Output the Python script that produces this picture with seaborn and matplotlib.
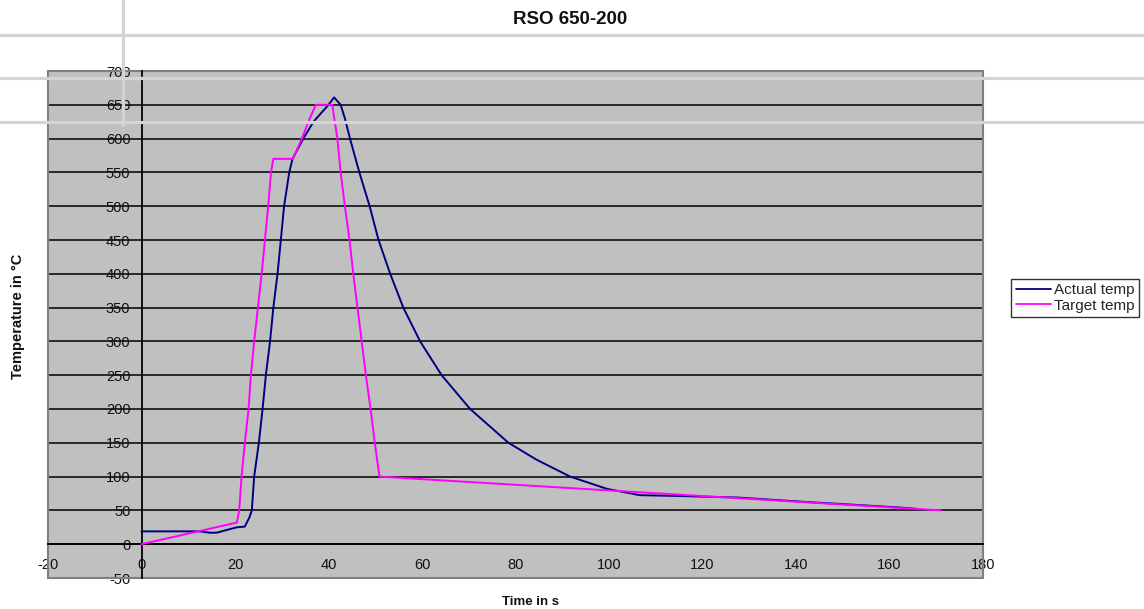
import matplotlib
matplotlib.use("Agg")
import matplotlib.pyplot as plt
import numpy as np
import pandas as pd
import seaborn as sns
from matplotlib.lines import Line2D
from matplotlib.patches import Rectangle

# ---------------- data ----------------
actual_time = [0, 12.5, 14.6, 16.1, 18.2, 20.4, 22.1, 23.1, 23.6, 24.1, 25.1, 25.9,
               26.6, 27.5, 28.2, 29.1, 29.8, 30.5, 31.6, 32.3, 34.6, 36.8, 40.0,
               41.2, 42.6, 43.5, 44.6, 46.6, 48.8, 50.7, 53.2, 56.0, 59.6, 64.2,
               70.3, 78.5, 84.5, 91.7, 99.5, 106.6, 113.7, 127.6, 141.9, 151.5,
               162.2, 166.0]
actual_temp = [19, 19, 17, 17, 21, 25, 26, 40, 50, 100, 150, 200,
               250, 300, 350, 400, 450, 500, 550, 570, 600, 625, 650,
               661, 650, 630, 600, 550, 500, 450, 400, 350, 300, 250,
               200, 150, 125, 100, 82, 72.5, 71.5, 69, 62.6, 58.7,
               54.3, 52.2]

target_time = [0, 20.4, 20.9, 21.4, 22.1, 22.9, 23.4, 24.1, 24.9, 25.7, 26.4,
               27.1, 27.7, 28.2, 32.4, 34.3, 36.0, 37.3, 40.8, 41.9, 42.6, 43.5,
               44.5, 45.3, 46.2, 47.1, 48.0, 49.0, 49.9, 50.9, 171.0]
target_temp = [0, 32, 50, 100, 150, 200, 250, 300, 350, 400, 450,
               500, 550, 570, 570, 600, 630, 650, 650, 600, 550, 500,
               450, 400, 350, 300, 250, 200, 150, 100, 50]

series_names = ["Actual temp", "Target temp"]
series_colors = ["#000080", "#ff00ff"]
x_ticks = [-20, 0, 20, 40, 60, 80, 100, 120, 140, 160, 180]
y_ticks = [-50, 0, 50, 100, 150, 200, 250, 300, 350, 400, 450, 500, 550, 600, 650, 700]

title = "RSO 650-200"
x_label = "Time in s"
y_label = "Temperature in °C"

# ---------------- figure ----------------
sns.set_style("white")
plt.rcParams["font.family"] = ["Liberation Sans", "DejaVu Sans"]
plt.rcParams["axes.unicode_minus"] = False

W, H = 1144, 609
fig = plt.figure(figsize=(W / 100, H / 100), dpi=100)
ax = fig.add_axes([48 / W, (H - 578) / H, 935 / W, 507 / H])
ax.set_facecolor("#c0c0c0")

df = pd.concat([
    pd.DataFrame({"Time": actual_time, "Temp": actual_temp, "Series": series_names[0]}),
    pd.DataFrame({"Time": target_time, "Temp": target_temp, "Series": series_names[1]}),
], ignore_index=True)

palette = dict(zip(series_names, series_colors))
sns.lineplot(data=df, x="Time", y="Temp", hue="Series", palette=palette,
             sort=False, estimator=None, ax=ax, linewidth=1.4, legend=False,
             zorder=4)

ax.set_xlim(-20, 180)
ax.set_ylim(-50, 700)
ax.set_xticks(x_ticks)
ax.set_yticks(y_ticks)
ax.set_xlabel("")
ax.set_ylabel("")

ax.yaxis.grid(True, color="black", linewidth=1.1)
ax.xaxis.grid(False)
ax.set_axisbelow(True)

for s in ["top", "right"]:
    ax.spines[s].set_visible(False)
ax.spines["left"].set_position(("data", 0))
ax.spines["bottom"].set_position(("data", 0))
for s in ["left", "bottom"]:
    ax.spines[s].set_color("black")
    ax.spines[s].set_linewidth(1.3)
    ax.spines[s].set_zorder(3)

ax.add_patch(Rectangle((0, 0), 1, 1, transform=ax.transAxes, fill=False,
                       edgecolor="#808080", linewidth=1.5, clip_on=False, zorder=2))

ax.tick_params(axis="both", direction="out", length=4, width=1.2, color="black",
               labelsize=10.5, labelcolor="#111111")
ax.tick_params(axis="y", pad=4)
ax.tick_params(axis="x", pad=6)

fig.text(570 / W, 1 - 20 / H, title, ha="center", va="center",
         fontsize=13.5, fontweight="bold", color="#111111")
fig.text(530 / W, 1 - 602 / H, x_label, ha="center", va="center",
         fontsize=9.5, fontweight="bold", color="#111111")
fig.text(18 / W, 1 - 316 / H, y_label, ha="center", va="center",
         rotation=90, fontsize=10.5, fontweight="bold", color="#111111")

handles = [Line2D([], [], color=c, lw=1.3) for c in series_colors]
leg = fig.legend(handles, series_names, loc="center left",
                 bbox_to_anchor=(1011 / W, 1 - 298 / H), fontsize=11,
                 frameon=True, fancybox=False, shadow=False, borderpad=0.3,
                 handlelength=2.3, handletextpad=0.2, labelspacing=0.1,
                 borderaxespad=0)
leg.get_frame().set_edgecolor("black")
leg.get_frame().set_linewidth(1.0)
leg.get_frame().set_facecolor("white")

# light grey screen-capture overlay lines present in the reference
art_c = "#d4d4d4"
for yy in [35, 78, 122]:
    fig.add_artist(Line2D([0, 1], [1 - yy / H, 1 - yy / H], transform=fig.transFigure,
                          color=art_c, lw=2.3, zorder=20))
fig.add_artist(Line2D([123 / W, 123 / W], [1, 1 - 125 / H], transform=fig.transFigure,
                      color=art_c, lw=2.3, zorder=20))

fig.savefig("out.png", dpi=100)
